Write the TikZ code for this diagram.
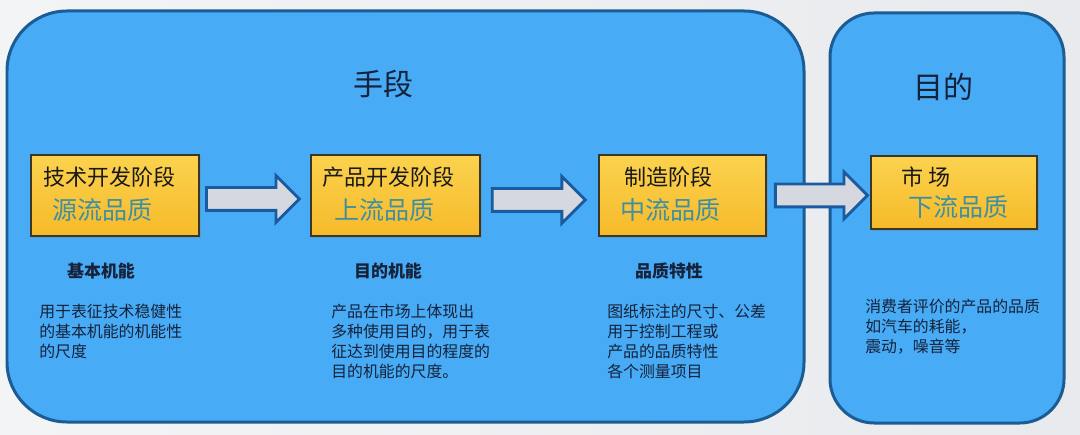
\documentclass[tikz,border=0pt]{standalone}
\usepackage{fontspec}
\setmainfont{Noto Sans CJK SC}
\usetikzlibrary{shapes.arrows,shadows,calc}
\definecolor{bgl}{HTML}{F3F4F6}
\definecolor{bgr}{HTML}{E8EAED}
\definecolor{panel}{HTML}{47ABF5}
\definecolor{panelline}{HTML}{1B5C94}
\definecolor{ytop}{HTML}{FBD24E}
\definecolor{ybot}{HTML}{F6BA2A}
\definecolor{yline}{HTML}{3B3626}
\definecolor{qteal}{HTML}{3F8FA3}
\definecolor{ink}{HTML}{16223A}
\definecolor{agray}{HTML}{D5D9DF}
\definecolor{aline}{HTML}{1A5A9E}
\begin{document}
\begin{tikzpicture}[x=0.567pt,y=-0.567pt,
  panelbox/.style={draw=panelline, line width=1.7pt, fill=panel},
  ybox/.style={draw=yline, line width=1.1pt, top color=ytop, bottom color=ybot,
    minimum width=95.3pt, minimum height=45.9pt, inner sep=0pt, anchor=north west,
    drop shadow={shadow xshift=1.2pt, shadow yshift=-1.2pt, opacity=0.35}},
  barrow/.style={single arrow, draw=aline, line width=1.6pt, fill=agray,
    inner xsep=0pt, inner ysep=5.67pt, single arrow head extend=6.8pt,
    minimum height=52.7pt, anchor=west},
  titletxt/.style={font=\fontsize{17}{20}\selectfont, text=ink, inner sep=0pt},
  htxt/.style={font=\fontsize{12.5}{15}\selectfont, text=black!90, anchor=west, inner sep=0pt},
  qtxt/.style={font=\fontsize{14.2}{17}\selectfont, text=qteal, anchor=west, inner sep=0pt},
  lbl/.style={font=\fontsize{9.6}{12}\selectfont\bfseries, text=ink, inner sep=0pt},
  para/.style={font=\fontsize{9}{11.3}\selectfont, text=ink, align=left, anchor=north west, inner sep=0pt},
]
\useasboundingbox (0,0) rectangle (1080,435);
\shade[left color=bgl, right color=bgr] (0,0) rectangle (1080,435);

% panels
\draw[panelbox, rounded corners=34pt] (7,11) rectangle (804,422);
\draw[panelbox, rounded corners=25pt] (830,13) rectangle (1064,423);

\node[titletxt] (t1) at (383,84) {手段};
\node[titletxt] (t2) at (943,87) {目的};

% yellow boxes
\node[ybox] (b1) at (30,154) {};
\node[ybox, minimum width=95.8pt] (b2) at (310,154) {};
\node[ybox, minimum width=94.7pt] (b3) at (598,154) {};
\node[ybox, minimum width=94.1pt, minimum height=41.4pt] (b4) at (870,155) {};

\node[htxt] (b1h) at (43,177) {技术开发阶段};
\node[qtxt] (b1q) at (52,210) {源流品质};
\node[htxt] (b2h) at (322,177) {产品开发阶段};
\node[qtxt] (b2q) at (334,210) {上流品质};
\node[htxt] (b3h) at (624,177) {制造阶段};
\node[qtxt] (b3q) at (620,210) {中流品质};
\node[htxt] (b4h) at (901,177) {市 场};
\node[qtxt] (b4q) at (908,207) {下流品质};

% block arrows between boxes
\node[barrow] (a1) at ($(b1.east)+(5,3.5)$) {};
\node[barrow] (a2) at ($(b2.east)+(10,4.5)$) {};
\node[barrow, minimum height=52.2pt] (a3) at ($(b3.east)+(7,0)$) {};

% labels
\node[lbl] (l1) at (101,271) {基本机能};
\node[lbl] (l2) at (388,271) {目的机能};
\node[lbl] (l3) at (669,271) {品质特性};

% paragraphs
\node[para] (p1) at (39,304) {用于表征技术稳健性\\的基本机能的机能性\\的尺度};
\node[para] (p2) at (331,304) {产品在市场上体现出\\多种使用目的，用于表\\征达到使用目的程度的\\目的机能的尺度。};
\node[para] (p3) at (607,304) {图纸标注的尺寸、公差\\用于控制工程或\\产品的品质特性\\各个测量项目};
\node[para] (p4) at (865,299) {消费者评价的产品的品质\\如汽车的耗能，\\震动，噪音等};
\end{tikzpicture}
\end{document}
